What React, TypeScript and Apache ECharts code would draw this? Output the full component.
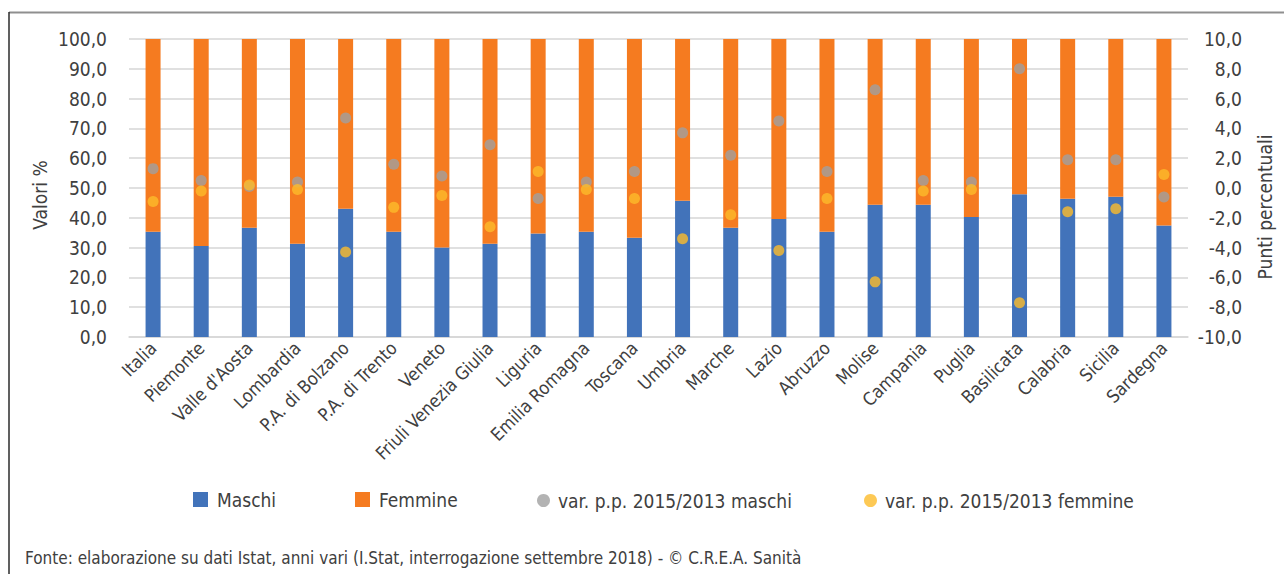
import React, { useEffect, useRef } from "react";
import * as echarts from "echarts";

const categories = [
  "Italia", "Piemonte", "Valle d'Aosta", "Lombardia", "P.A. di Bolzano", "P.A. di Trento",
  "Veneto", "Friuli Venezia Giulia", "Liguria", "Emilia Romagna", "Toscana", "Umbria",
  "Marche", "Lazio", "Abruzzo", "Molise", "Campania", "Puglia", "Basilicata", "Calabria",
  "Sicilia", "Sardegna",
];
const maschi = [35.3, 30.5, 36.7, 31.3, 43.0, 35.3, 30.0, 31.3, 34.7, 35.3, 33.3, 45.7, 36.7, 39.6, 35.3, 44.4, 44.4, 40.3, 47.9, 46.4, 47.1, 37.4];
const femmine = [64.7, 69.5, 63.3, 68.7, 57.0, 64.7, 70.0, 68.7, 65.3, 64.7, 66.7, 54.3, 63.3, 60.4, 64.7, 55.6, 55.6, 59.7, 52.1, 53.6, 52.9, 62.6];
const varMaschi = [1.3, 0.5, 0.1, 0.4, 4.7, 1.6, 0.8, 2.9, -0.7, 0.4, 1.1, 3.7, 2.2, 4.5, 1.1, 6.6, 0.5, 0.4, 8.0, 1.9, 1.9, -0.6];
const varFemmine = [-0.9, -0.2, 0.2, -0.1, -4.3, -1.3, -0.5, -2.6, 1.1, -0.1, -0.7, -3.4, -1.8, -4.2, -0.7, -6.3, -0.2, -0.1, -7.7, -1.6, -1.4, 0.9];

const FONT = "'Liberation Sans Narrow', 'DejaVu Sans Condensed', 'Liberation Sans', sans-serif";
const TXT = "#404040";

export default function App() {
  const ref = useRef<HTMLDivElement>(null);
  useEffect(() => {
    if (!ref.current) return;
    const chart = echarts.init(ref.current, null, { renderer: "svg" });
    const fmt = (v: number) => v.toFixed(1).replace(".", ",");
    chart.setOption({
      animation: false,
      textStyle: { fontFamily: FONT, color: TXT },
      grid: { left: 129, right: 96, top: 39, bottom: 237, containLabel: false },
      legend: [
        { data: ["Maschi"], left: 193, top: 490, padding: 0, icon: "rect", itemWidth: 15, itemHeight: 15, textStyle: { fontFamily: FONT, fontSize: 19, color: TXT, padding: [0, 0, 0, 4] } },
        { data: ["Femmine"], left: 355, top: 490, padding: 0, icon: "rect", itemWidth: 15, itemHeight: 15, textStyle: { fontFamily: FONT, fontSize: 19, color: TXT, padding: [0, 0, 0, 4] } },
        { data: ["var. p.p. 2015/2013 maschi"], left: 537, top: 491, padding: 0, icon: "circle", itemWidth: 13, itemHeight: 13, textStyle: { fontFamily: FONT, fontSize: 19, color: TXT, padding: [0, 0, 0, 3] } },
        { data: ["var. p.p. 2015/2013 femmine"], left: 864, top: 491, padding: 0, icon: "circle", itemWidth: 13, itemHeight: 13, textStyle: { fontFamily: FONT, fontSize: 19, color: TXT, padding: [0, 0, 0, 3] } },
      ],
      xAxis: {
        type: "category",
        data: categories,
        axisLine: { show: true, lineStyle: { color: "#d6d6d6", width: 1.5 } },
        axisTick: { show: false },
        axisLabel: { rotate: 45, interval: 0, margin: 8, fontSize: 18, color: TXT, fontFamily: FONT },
      },
      yAxis: [
        {
          type: "value", min: 0, max: 100, interval: 10,
          axisLine: { show: false }, axisTick: { show: false },
          splitLine: { lineStyle: { color: "#d6d6d6", width: 1.5 } },
          axisLabel: { formatter: fmt, fontSize: 19, color: TXT, fontFamily: FONT, margin: 22 },
        },
        {
          type: "value", min: -10, max: 10, interval: 2,
          axisLine: { show: false }, axisTick: { show: false },
          splitLine: { show: false },
          axisLabel: { formatter: fmt, fontSize: 19, color: TXT, fontFamily: FONT, margin: 54, align: "right" },
        },
      ],
      series: [
        { name: "Maschi", type: "bar", stack: "tot", data: maschi, barWidth: 15, itemStyle: { color: "#4273BA" } },
        { name: "Femmine", type: "bar", stack: "tot", data: femmine, barWidth: 15, itemStyle: { color: "#F57B20" } },
        { name: "var. p.p. 2015/2013 maschi", type: "scatter", yAxisIndex: 1, data: varMaschi, symbolSize: 11, itemStyle: { color: "#A0A0A0" }, z: 3 },
        { name: "var. p.p. 2015/2013 femmine", type: "scatter", yAxisIndex: 1, data: varFemmine, symbolSize: 11, itemStyle: { color: "#FDBC2A" }, z: 4 },
      ],
      graphic: [
        { type: "line", shape: { x1: 9, y1: 12.5, x2: 1284, y2: 12.5 }, style: { stroke: "#8f8f8f", lineWidth: 2 } },
        { type: "line", shape: { x1: 9, y1: 12, x2: 9, y2: 574 }, style: { stroke: "#2b2b2b", lineWidth: 1.5 } },
        { type: "text", x: 40, y: 195, rotation: Math.PI / 2, style: { text: "Valori %", font: `19px ${FONT}`, fill: TXT, textAlign: "center", textVerticalAlign: "middle" } },
        { type: "text", x: 1265, y: 207, rotation: Math.PI / 2, style: { text: "Punti percentuali", font: `19px ${FONT}`, fill: TXT, textAlign: "center", textVerticalAlign: "middle" } },
        { type: "text", x: 25, y: 558, style: { text: "Fonte: elaborazione su dati Istat, anni vari (I.Stat, interrogazione settembre 2018) - © C.R.E.A. Sanità", font: `17px ${FONT}`, fill: TXT, textAlign: "left", textVerticalAlign: "middle" } },
      ],
    });
    return () => chart.dispose();
  }, []);
  return <div ref={ref} style={{ position: "fixed", left: 0, top: 0, width: 1284, height: 574, background: "#fff" }} />;
}
